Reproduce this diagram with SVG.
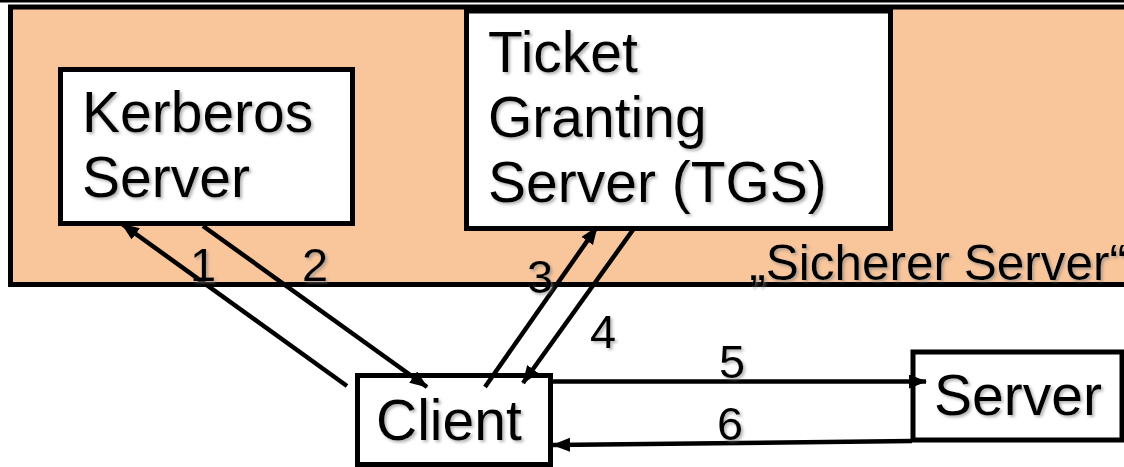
<svg xmlns="http://www.w3.org/2000/svg" width="1124" height="467" viewBox="0 0 1124 467">
<style>
.box{fill:#fff;stroke:#000;stroke-width:5}
.t{font-family:"Liberation Sans",Arial,sans-serif;font-size:57px;fill:#000;filter:url(#sh)}
.n{font-family:"Liberation Sans",Arial,sans-serif;font-size:47px;fill:#000;text-anchor:middle;filter:url(#sh)}
.c{stroke:#000;stroke-width:4.5;fill:none;marker-end:url(#ah)}
</style>
<defs>
<filter id="sh" x="-10%" y="-10%" width="130%" height="130%">
<feDropShadow dx="2" dy="2" stdDeviation="1.5" flood-color="#808080" flood-opacity="0.6"/>
</filter>
<marker id="ah" markerUnits="userSpaceOnUse" markerWidth="20" markerHeight="16" refX="17" refY="7" orient="auto">
<path d="M0,0 L18,7 L0,14 Z" fill="#000"/>
</marker>
</defs>
<line x1="0" y1="1.2" x2="1124" y2="1.2" stroke="#000" stroke-width="2.5"/>
<g id="secure-zone">
<rect x="10.5" y="7" width="1120" height="277.5" fill="#F9C59B" stroke="#000" stroke-width="5"/>
<text class="t" x="1126" y="280" style="font-size:49.5px;text-anchor:end">„Sicherer Server“</text>
</g>
<g id="kerberos">
<rect class="box" x="60.5" y="69.5" width="292" height="154"/>
<text class="t" x="82" y="132">Kerberos</text>
<text class="t" x="82" y="197">Server</text>
</g>
<g id="tgs">
<rect class="box" x="466.5" y="11" width="424" height="217.5"/>
<text class="t" x="488" y="72">Ticket</text>
<text class="t" x="488" y="137">Granting</text>
<text class="t" x="488" y="202">Server (TGS)</text>
</g>
<g id="client">
<rect class="box" x="357.5" y="375.5" width="193" height="89"/>
<text class="t" x="376" y="440">Client</text>
</g>
<g id="server">
<rect class="box" x="913" y="352" width="209" height="88"/>
<text class="t" x="934" y="415">Server</text>
</g>
<g id="connectors">
<line class="c" x1="347" y1="386" x2="122" y2="224"/>
<line class="c" x1="203" y1="226" x2="427" y2="387"/>
<line class="c" x1="485" y1="387" x2="597" y2="227"/>
<line class="c" x1="635" y1="227" x2="523" y2="383"/>
<line class="c" x1="553" y1="381.5" x2="926" y2="381.5"/>
<line class="c" x1="912" y1="441" x2="553" y2="445"/>
<text class="n" x="203" y="281">1</text>
<text class="n" x="315" y="281">2</text>
<text class="n" x="540" y="293">3</text>
<text class="n" x="603" y="348">4</text>
<text class="n" x="732" y="378">5</text>
<text class="n" x="730" y="440">6</text>
</g>
</svg>
